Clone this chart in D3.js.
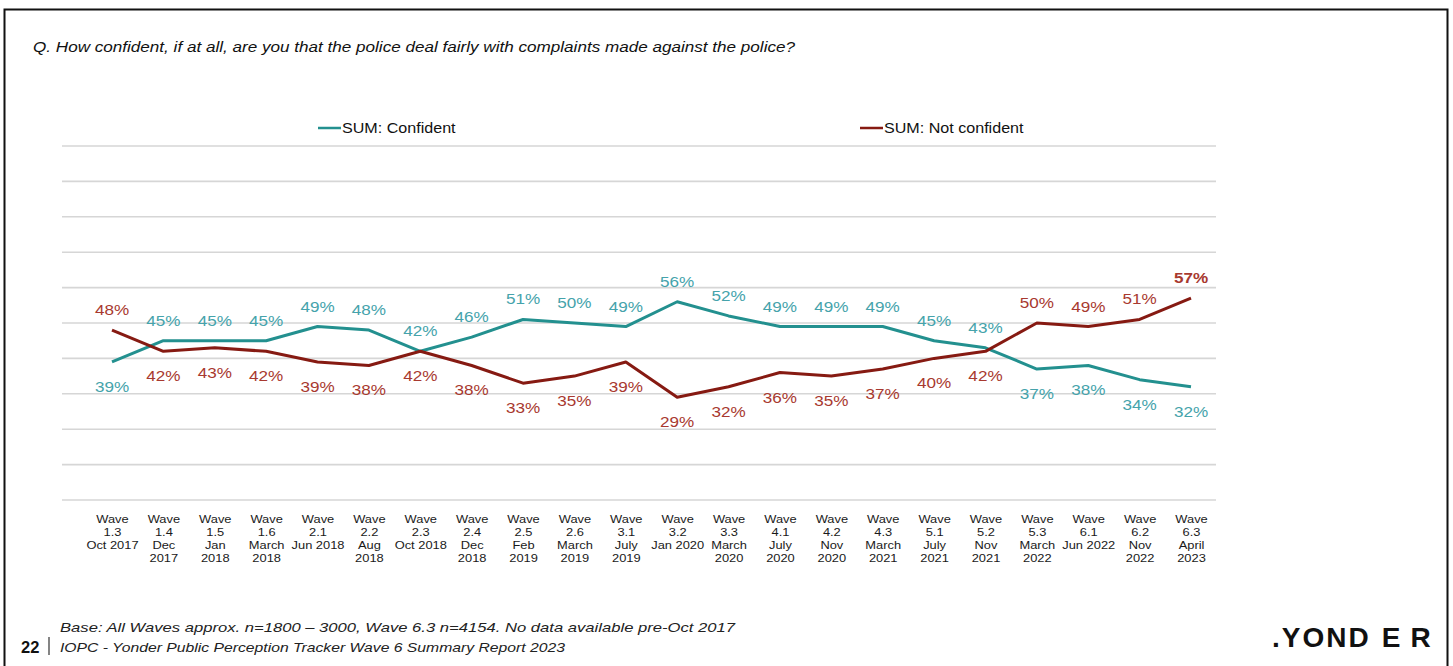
<!DOCTYPE html>
<html>
<head>
<meta charset="utf-8">
<script src="https://cdn.jsdelivr.net/npm/d3@7"></script>
<style>
  html, body { margin: 0; padding: 0; background: #ffffff; }
  svg { display: block; }
  text { font-family: "Liberation Sans", Arial, sans-serif; }
</style>
</head>
<body>
<svg id="chart" width="1453" height="666"></svg>
<script>
// Survey waves (x categories)
const waves = ["1.3","1.4","1.5","1.6","2.1","2.2","2.3","2.4","2.5","2.6","3.1",
               "3.2","3.3","4.1","4.2","4.3","5.1","5.2","5.3","6.1","6.2","6.3"];
// Fieldwork dates, already split the way they wrap under each wave
const waveDates = [
  ["Oct 2017"], ["Dec","2017"], ["Jan","2018"], ["March","2018"], ["Jun 2018"],
  ["Aug","2018"], ["Oct 2018"], ["Dec","2018"], ["Feb","2019"], ["March","2019"],
  ["July","2019"], ["Jan 2020"], ["March","2020"], ["July","2020"], ["Nov","2020"],
  ["March","2021"], ["July","2021"], ["Nov","2021"], ["March","2022"], ["Jun 2022"],
  ["Nov","2022"], ["April","2023"]
];
// Share of respondents (%)
const confident    = [39,45,45,45,49,48,42,46,51,50,49,56,52,49,49,49,45,43,37,38,34,32];
const notConfident = [48,42,43,42,39,38,42,38,33,35,39,29,32,36,35,37,40,42,50,49,51,57];
const seriesNames  = ["SUM: Confident", "SUM: Not confident"];
const yTicks = [0,10,20,30,40,50,60,70,80,90,100];

const svg = d3.select("#chart");

const tealLine = "#23908f", tealText = "#45a3ab";
const redLine  = "#861a12", redText  = "#a8392f";
const SX = 1.18; // slide text is set wide

// Page frame
svg.append("path")
  .attr("d", "M4.5,670 V9.5 H1447.5 V670")
  .attr("fill", "none").attr("stroke", "#111").attr("stroke-width", 2);

// Question
svg.append("text")
  .attr("x", 33).attr("y", 52)
  .attr("font-size", 14).attr("font-style", "italic").attr("fill", "#111")
  .attr("textLength", 762).attr("lengthAdjust", "spacingAndGlyphs")
  .text("Q. How confident, if at all, are you that the police deal fairly with complaints made against the police?");

// Scales
const x = d3.scalePoint().domain(waves).range([86.3, 1216.7]).padding(0.5);
const y = d3.scaleLinear().domain([0, 100]).range([500, 146]);
const gridLeft = 62, gridRight = 1216;

// Horizontal gridlines
svg.append("g").selectAll("line").data(yTicks).join("line")
  .attr("x1", gridLeft).attr("x2", gridRight)
  .attr("y1", d => y(d)).attr("y2", d => y(d))
  .attr("stroke", "#d6d6d6").attr("stroke-width", 1.6);

// X axis labels (wave number + date)
const xAxis = d3.axisBottom(x).tickSize(0).tickFormat("");
const gx = svg.append("g").attr("transform", `translate(0,${y(0)})`).call(xAxis);
gx.select(".domain").remove();
gx.selectAll(".tick").each(function(d, i) {
  const t = d3.select(this).append("text")
    .attr("transform", "scale(1.12,1)")
    .attr("fill", "#1a1a1a").attr("font-size", 11.5).attr("text-anchor", "middle");
  const lines = ["Wave", d].concat(waveDates[i]);
  lines.forEach((s, k) => t.append("tspan").attr("x", 0).attr("y", 23 + k * 13).text(s));
});

// Lines
const line = d3.line().x((d, i) => x(waves[i])).y(d => y(d));
svg.append("path").datum(confident).attr("d", line)
  .attr("fill", "none").attr("stroke", tealLine).attr("stroke-width", 3).attr("stroke-linejoin", "round");
svg.append("path").datum(notConfident).attr("d", line)
  .attr("fill", "none").attr("stroke", redLine).attr("stroke-width", 3).attr("stroke-linejoin", "round");

// Data labels: the higher series is labelled above the line, the lower below
function labels(values, other, color, preferAbove) {
  svg.append("g").selectAll("text").data(values).join("text")
    .attr("transform", (d, i) => {
      const above = d > other[i] || (d === other[i] && preferAbove);
      return `translate(${x(waves[i])},${y(d) + (above ? -15 : 30)}) scale(${SX},1)`;
    })
    .attr("text-anchor", "middle").attr("font-size", 14.5)
    .attr("fill", color)
    .attr("font-weight", (d, i) => i === values.length - 1 && d > other[i] ? "bold" : "normal")
    .text(d => d + "%");
}
labels(confident, notConfident, tealText, true);
labels(notConfident, confident, redText, false);

// Legend
const legend = [
  { name: seriesNames[0], color: tealLine, x: 318 },
  { name: seriesNames[1], color: redLine, x: 860 }
];
const lg = svg.append("g").selectAll("g").data(legend).join("g")
  .attr("transform", d => `translate(${d.x},128)`);
lg.append("line").attr("x1", 0).attr("x2", 23).attr("y1", 0).attr("y2", 0)
  .attr("stroke", d => d.color).attr("stroke-width", 2.5);
lg.append("text").attr("transform", `translate(24,5) scale(1.15,1)`)
  .attr("font-size", 14).attr("fill", "#111")
  .text(d => d.name);

// Footer
svg.append("text").attr("x", 60).attr("y", 632)
  .attr("font-size", 13.5).attr("font-style", "italic").attr("fill", "#222")
  .attr("textLength", 675).attr("lengthAdjust", "spacingAndGlyphs")
  .text("Base: All Waves approx. n=1800 \u2013 3000, Wave 6.3 n=4154. No data available pre-Oct 2017");
svg.append("text").attr("x", 21).attr("y", 653)
  .attr("font-size", 16.5).attr("font-weight", "bold").attr("fill", "#111").text("22");
svg.append("line").attr("x1", 49).attr("x2", 49).attr("y1", 637).attr("y2", 655)
  .attr("stroke", "#333").attr("stroke-width", 1.2);
svg.append("text").attr("x", 60).attr("y", 652)
  .attr("font-size", 13.5).attr("font-style", "italic").attr("fill", "#222")
  .attr("textLength", 505).attr("lengthAdjust", "spacingAndGlyphs")
  .text("IOPC - Yonder Public Perception Tracker Wave 6 Summary Report 2023");

// Logo
const logo = svg.append("text").attr("transform", "translate(1272,647)")
  .attr("font-size", 28).attr("font-weight", "bold").attr("fill", "#111");
logo.append("tspan").attr("letter-spacing", 2).text(".YOND");
logo.append("tspan").attr("dx", 11).text("E");
logo.append("tspan").attr("dx", 10).text("R");
</script>
</body>
</html>
